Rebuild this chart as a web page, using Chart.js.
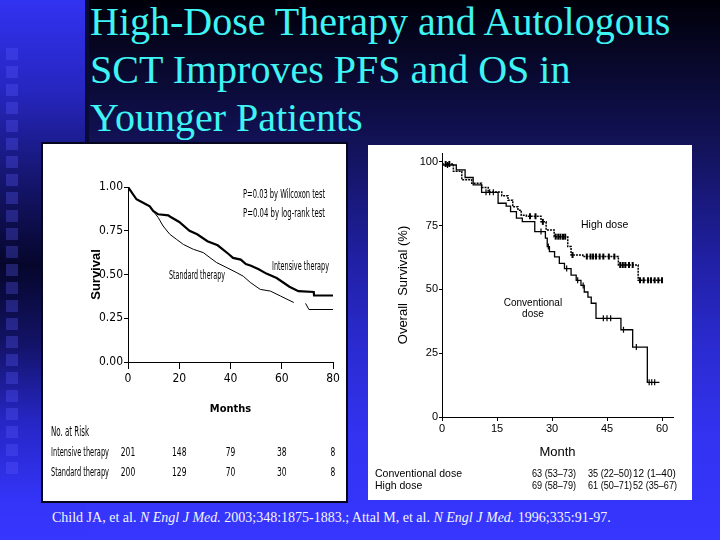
<!DOCTYPE html>
<html>
<head>
<meta charset="utf-8">
<script src="https://cdn.jsdelivr.net/npm/chart.js@4.4.1/dist/chart.umd.min.js"></script>
<style>
  html, body { margin:0; padding:0; }
  body {
    width:720px; height:540px; position:relative; overflow:hidden;
    background: linear-gradient(to bottom, #00000a 0px, #0a0a34 80px, #13135c 150px, #2020a4 260px, #2b2bd2 350px, #3333f2 440px, #3636ff 540px);
  }
  #strip {
    position:absolute; left:0; top:0; width:86px; height:540px;
    background: linear-gradient(to bottom, #3232f2 0px, #2626c0 90px, #15156e 180px, #06062c 265px, #121264 340px, #2626c4 420px, #3434f8 500px, #3636ff 540px);
  }
  #stripEdge { position:absolute; left:85px; top:0; width:4px; height:142px; background:#0a0a36; }
  #squares {
    position:absolute; left:6px; top:48px; width:12px; height:426px;
    background: repeating-linear-gradient(to bottom, rgba(90,90,255,0.30) 0px, rgba(90,90,255,0.30) 12px, rgba(0,0,0,0) 12px, rgba(0,0,0,0) 18px);
  }
  #title {
    position:absolute; left:90px; top:-2px; margin:0;
    font-family:'Liberation Serif','Times New Roman',serif; font-size:40px; line-height:48px;
    color:#3ff4f4; font-weight:normal; white-space:nowrap;
  }
  #panel1 {
    position:absolute; left:41px; top:142px; width:307px; height:361px; box-sizing:border-box;
    background:#fff; border:2px solid #06061e;
  }
  #panel2 {
    position:absolute; left:368px; top:145px; width:324px; height:355px; background:#fff;
  }
  canvas { position:absolute; left:0; top:0; }
  #cite {
    position:absolute; left:52px; top:510px; white-space:nowrap;
    font-family:'Liberation Serif','Times New Roman',serif; font-size:14px; color:#f4f4ff;
  }
</style>
</head>
<body>
<div id="strip"></div>
<div id="stripEdge"></div>
<div id="squares"></div>
<h1 id="title">High-Dose Therapy and Autologous<br>SCT Improves PFS and OS in<br>Younger Patients</h1>
<div id="panel1"><canvas id="c1" width="303" height="357"></canvas></div>
<div id="panel2"><canvas id="c2" width="324" height="355"></canvas></div>
<div id="cite">Child JA, et al. <i>N Engl J Med.</i> 2003;348:1875-1883.; Attal M, et al. <i>N Engl J Med.</i> 1996;335:91-97.</div>

<script>
// ---------- Left chart data (Child et al.) ----------
const leftIntensiveMonths = [0, 3.3, 5.9, 8.5, 9.8, 11.8, 15.7, 16.5, 20, 24, 27, 31, 35, 39, 41, 44, 46, 48, 51, 54, 58, 60, 63, 66.5, 72.5, 72.6, 80];
const leftIntensiveSurv   = [1.00, 0.93, 0.91, 0.89, 0.863, 0.844, 0.838, 0.83, 0.80, 0.75, 0.73, 0.69, 0.667, 0.62, 0.595, 0.585, 0.56, 0.55, 0.53, 0.505, 0.48, 0.46, 0.43, 0.405, 0.40, 0.38, 0.38];
const leftStandardMonths  = [0, 3.3, 5.9, 8.5, 9.8, 11.8, 13.7, 16.3, 19, 21.6, 25.5, 29.4, 32, 34.6, 38.6, 42.5, 45, 47.7, 51.6, 55.6, 59.5, 64.7, 67, 69.3, 70.6, 80];
const leftStandardSurv    = [1.00, 0.93, 0.91, 0.89, 0.863, 0.825, 0.777, 0.73, 0.70, 0.672, 0.644, 0.625, 0.596, 0.568, 0.539, 0.51, 0.49, 0.455, 0.415, 0.405, 0.377, 0.34, null, 0.335, 0.30, 0.30];
const leftYTicks = [0, 0.25, 0.5, 0.75, 1.0];
const riskMonths    = [0, 20, 40, 60, 80];
const riskIntensive = [201, 148, 79, 38, 8];
const riskStandard  = [200, 129, 70, 30, 8];
const riskGroups    = ['Intensive therapy', 'Standard therapy'];

// ---------- Right chart data (Attal et al.) ----------
const convMonths = [0, 3.9, 6.3, 8.5, 10.8, 15.3, 17.5, 18.7, 20.3, 21.9, 25.3, 28.2, 28.7, 29.3, 30.7, 32, 33.4, 35.2, 36.6, 37.9, 38.8, 39.8, 40.7, 42, 48.8, 52, 56, 59.3];
const convSurv   = [98.8, 96.9, 93.9, 91, 88.1, 83.8, 82.7, 80.5, 78, 76.6, 72.7, 70.1, 66.8, 64.8, 62.8, 60.2, 58.2, 55.6, 53.6, 51.6, 49, 47, 44.6, 38.7, 34.2, 27.4, 13.6, 13.6];
const highMonths = [0, 3.1, 5.4, 8.1, 10.8, 12.6, 16.3, 18, 19.3, 20.7, 21.6, 23, 27, 28.4, 30.6, 34.3, 35.2, 38.4, 48.1, 53.5, 60];
const highSurv   = [99.2, 96.3, 93, 91.6, 90, 88.2, 86.7, 85, 82.4, 81.1, 79.1, 78.7, 76.5, 73.3, 70.7, 66.8, 63.5, 62.9, 59.6, 53.6, 53.6];
const highCensorMonths = [1, 2, 24, 25.5, 27.5, 31, 31.7, 32.3, 33, 33.6, 35.6, 39.5, 40.5, 41.2, 42, 43, 44, 45.5, 47, 48.6, 49.3, 50, 51, 52, 54, 55, 56.2, 57, 58, 59, 60];
const highCensorSurv   = [99.2, 99.2, 78.7, 78.7, 76.5, 70.7, 70.7, 70.7, 70.7, 70.7, 63.5, 62.9, 62.9, 62.9, 62.9, 62.9, 62.9, 62.9, 62.9, 59.6, 59.6, 59.6, 59.6, 59.6, 53.6, 53.6, 53.6, 53.6, 53.6, 53.6, 53.6];
const convCensorMonths = [1.5, 12, 13, 14, 27, 29, 34, 37, 38.5, 44, 45, 46, 49.5, 53, 56.5, 57.2, 58];
const convCensorSurv   = [98.8, 88.1, 88.1, 88.1, 72.7, 66.8, 58.2, 53.6, 51.6, 38.7, 38.7, 38.7, 34.2, 27.4, 13.6, 13.6, 13.6];
const rightXTicks = [0, 15, 30, 45, 60];
const rightYTicks = [0, 25, 50, 75, 100];
const tableGroups = ['Conventional dose', 'High dose'];
const tableValues = [['63 (53–73)', '35 (22–50)', '12 (1–40)'], ['69 (58–79)', '61 (50–71)', '52 (35–67)']];

const NARROW = "'Liberation Sans Narrow','Arial Narrow','DejaVu Sans Condensed',sans-serif";
const SANS = "'Liberation Sans',Arial,sans-serif";

function toXY(xs, ys) { return xs.map((x, i) => ({ x: x, y: ys[i] })); }
function txt(ctx, s, x, y, font, align, maxW) {
  ctx.font = font; ctx.textAlign = align || 'left'; ctx.textBaseline = 'middle'; ctx.fillStyle = '#000';
  if (maxW) ctx.fillText(s, x, y, maxW); else ctx.fillText(s, x, y);
}

const leftText = {
  id: 'leftText',
  afterDraw(chart) {
    const ctx = chart.ctx, x = chart.scales.x, y = chart.scales.y;
    ctx.save();
    const f = '13px ' + NARROW;
    txt(ctx, 'P=0.03 by Wilcoxon test', x.getPixelForValue(44.9), y.getPixelForValue(0.954), f, 'left', 82);
    txt(ctx, 'P=0.04 by log-rank test', x.getPixelForValue(44.9), y.getPixelForValue(0.846), f, 'left', 82);
    txt(ctx, 'Intensive therapy', x.getPixelForValue(56.2), y.getPixelForValue(0.543), f, 'left', 57);
    txt(ctx, 'Standard therapy', x.getPixelForValue(16.0), y.getPixelForValue(0.491), f, 'left', 56);
    txt(ctx, 'No. at Risk', 8, 288, '14px ' + NARROW, 'left', 38);
    txt(ctx, riskGroups[0], 8, 309, f, 'left', 58);
    txt(ctx, riskGroups[1], 8, 329, f, 'left', 58);
    riskMonths.forEach((m, i) => {
      const px = x.getPixelForValue(m);
      const w = String(riskIntensive[i]).length * 4.8;
      txt(ctx, String(riskIntensive[i]), px, 309, f, 'center', w);
      txt(ctx, String(riskStandard[i]), px, 329, f, 'center', String(riskStandard[i]).length * 4.8);
    });
    ctx.restore();
  }
};

const rightText = {
  id: 'rightText',
  afterDraw(chart) {
    const ctx = chart.ctx, x = chart.scales.x, y = chart.scales.y;
    ctx.save();
    const f = '10px ' + SANS;
    txt(ctx, 'High dose', x.getPixelForValue(37.9), y.getPixelForValue(75.3), '10.5px ' + SANS, 'left');
    txt(ctx, 'Conventional', x.getPixelForValue(24.8), y.getPixelForValue(44.7), f, 'center');
    txt(ctx, 'dose', x.getPixelForValue(24.8), y.getPixelForValue(40.4), f, 'center');
    const cols = [164, 220, 265];
    [329, 341].forEach((ry, r) => {
      txt(ctx, tableGroups[r], 7, ry, '10.5px ' + SANS, 'left');
      tableValues[r].forEach((v, c) => txt(ctx, v, cols[c], ry, f, 'left', 44));
    });
    ctx.restore();
  }
};

new Chart(document.getElementById('c1'), {
  type: 'line',
  data: { datasets: [
    { label: 'Intensive therapy', data: toXY(leftIntensiveMonths, leftIntensiveSurv), borderColor: '#000', borderWidth: 2.2, pointRadius: 0, tension: 0, fill: false },
    { label: 'Standard therapy', data: toXY(leftStandardMonths, leftStandardSurv), borderColor: '#000', borderWidth: 1, pointRadius: 0, tension: 0, fill: false, spanGaps: false }
  ]},
  options: {
    responsive: false, animation: false, devicePixelRatio: 1,
    layout: { padding: { left: 46, top: 43, right: 13, bottom: 85 } },
    plugins: { legend: { display: false }, tooltip: { enabled: false } },
    scales: {
      x: {
        type: 'linear', min: 0, max: 80,
        afterFit(s) { s.height = 54; },
        afterBuildTicks(s) { s.ticks = riskMonths.map(v => ({ value: v })); },
        ticks: { color: '#000', font: { family: NARROW, size: 12 }, padding: 3, maxRotation: 0, autoSkip: false },
        grid: { drawOnChartArea: false, drawTicks: true, tickLength: 7, color: '#000', lineWidth: 1 },
        border: { display: true, color: '#000', width: 1 },
        title: { display: true, text: 'Months', color: '#000', font: { family: NARROW, size: 11, weight: 'bold' }, padding: 0 }
      },
      y: {
        type: 'linear', min: 0, max: 1,
        afterFit(s) { s.width = 39; },
        afterBuildTicks(s) { s.ticks = leftYTicks.map(v => ({ value: v })); },
        ticks: { color: '#000', font: { family: NARROW, size: 12 }, padding: 1, callback: v => Number(v).toFixed(2) },
        grid: { drawOnChartArea: false, drawTicks: true, tickLength: 4, color: '#000', lineWidth: 1 },
        border: { display: true, color: '#000', width: 1 },
        title: { display: true, text: 'Survival', color: '#000', font: { family: SANS, size: 13, weight: 'bold' }, padding: 0 }
      }
    }
  },
  plugins: [leftText]
});

new Chart(document.getElementById('c2'), {
  type: 'line',
  data: { datasets: [
    { label: 'Conventional dose', data: toXY(convMonths, convSurv), borderColor: '#000', borderWidth: 1.3, pointRadius: 0, stepped: true, fill: false },
    { label: 'High dose', data: toXY(highMonths, highSurv), borderColor: '#000', borderWidth: 1.5, borderDash: [2, 1], pointRadius: 0, stepped: true, fill: false },
    { label: 'High dose censored', data: toXY(highCensorMonths, highCensorSurv), showLine: false, pointStyle: 'line', rotation: 90, pointRadius: 3, borderColor: '#000', borderWidth: 2, backgroundColor: '#000' },
    { label: 'Conventional censored', data: toXY(convCensorMonths, convCensorSurv), showLine: false, pointStyle: 'line', rotation: 90, pointRadius: 3, borderColor: '#000', borderWidth: 1.2, backgroundColor: '#000' }
  ]},
  options: {
    responsive: false, animation: false, devicePixelRatio: 1,
    layout: { padding: { left: 28, top: 8, right: 19, bottom: 40 } },
    plugins: { legend: { display: false }, tooltip: { enabled: false } },
    scales: {
      x: {
        type: 'linear', min: 0, max: 63,
        afterFit(s) { s.height = 43; },
        afterBuildTicks(s) { s.ticks = rightXTicks.map(v => ({ value: v })); },
        ticks: { color: '#000', font: { family: SANS, size: 11 }, padding: 1, maxRotation: 0, autoSkip: false },
        grid: { drawOnChartArea: false, drawTicks: true, tickLength: 4, color: '#000', lineWidth: 1 },
        border: { display: true, color: '#000', width: 1 },
        title: { display: true, text: 'Month', color: '#000', font: { family: SANS, size: 13 }, padding: 0 }
      },
      y: {
        type: 'linear', min: 0, max: 103.5,
        afterFit(s) { s.width = 46; },
        afterBuildTicks(s) { s.ticks = rightYTicks.map(v => ({ value: v })); },
        ticks: { color: '#000', font: { family: SANS, size: 11 }, padding: 1 },
        grid: { drawOnChartArea: false, drawTicks: true, tickLength: 3, color: '#000', lineWidth: 1 },
        border: { display: true, color: '#000', width: 1 },
        title: { display: true, text: 'Overall  Survival (%)', color: '#000', font: { family: SANS, size: 13 }, padding: 0 }
      }
    }
  },
  plugins: [rightText]
});
</script>
</body>
</html>
